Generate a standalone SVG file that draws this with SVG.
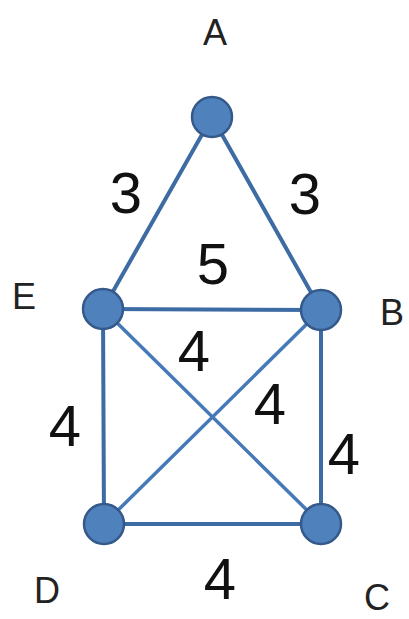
<svg xmlns="http://www.w3.org/2000/svg" width="409" height="619" viewBox="0 0 409 619">
<style>
.edge{stroke:#3d6ba3;stroke-width:4;stroke-linecap:round;fill:none}
.diag{stroke:#4579b8;stroke-width:3.5}
.node{fill:#4f81bd;stroke:#34598a;stroke-width:2.5}
.lbl{font-family:"Liberation Sans",Arial,sans-serif;font-size:36px;fill:#222;text-anchor:middle}
.w{font-family:"Liberation Sans",Arial,sans-serif;font-size:58px;fill:#111;text-anchor:middle}
</style>
<rect width="409" height="619" fill="#fff"/>
<g id="connectors">
<line class="edge" x1="212" y1="117" x2="103" y2="309"/>
<line class="edge" x1="212" y1="117" x2="321" y2="310"/>
<line class="edge" x1="103" y1="309" x2="321" y2="310"/>
<line class="edge" x1="103" y1="309" x2="104" y2="524"/>
<line class="edge" x1="321" y1="310" x2="321" y2="524"/>
<line class="edge" x1="104" y1="524" x2="321" y2="524"/>
<line class="edge diag" x1="103" y1="309" x2="321" y2="524"/>
<line class="edge diag" x1="321" y1="310" x2="104" y2="524"/>
<text class="w" x="126" y="213">3</text>
<text class="w" x="305" y="214">3</text>
<text class="w" x="213" y="284">5</text>
<text class="w" x="194" y="371">4</text>
<text class="w" x="270" y="424">4</text>
<text class="w" x="65" y="446">4</text>
<text class="w" x="344" y="474">4</text>
<text class="w" x="220" y="599">4</text>
</g>
<g id="A"><circle class="node" cx="212" cy="117" r="20"/><text class="lbl" x="215" y="45">A</text></g>
<g id="E"><circle class="node" cx="103" cy="309" r="20"/><text class="lbl" x="24" y="309">E</text></g>
<g id="B"><circle class="node" cx="321" cy="310" r="20"/><text class="lbl" x="392" y="325">B</text></g>
<g id="D"><circle class="node" cx="104" cy="524" r="20"/><text class="lbl" x="47" y="603">D</text></g>
<g id="C"><circle class="node" cx="321" cy="524" r="20"/><text class="lbl" x="377" y="610">C</text></g>
</svg>
